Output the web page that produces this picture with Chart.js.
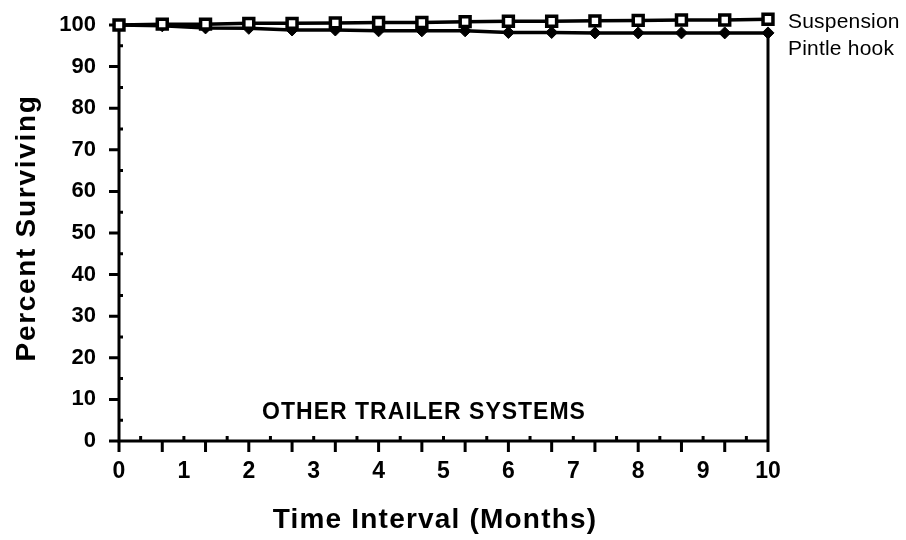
<!DOCTYPE html>
<html>
<head>
<meta charset="utf-8">
<script src="https://cdn.jsdelivr.net/npm/chart.js@4"></script>
<style>
  html, body { margin: 0; padding: 0; background: #fff; }
  canvas { display: block; }
</style>
</head>
<body>
<canvas id="chart" width="906" height="540"></canvas>
<script>
// time points (months), one every 20 days
const months = [0, 2/3, 4/3, 2, 8/3, 10/3, 4, 14/3, 16/3, 6, 20/3, 22/3, 8, 26/3, 28/3, 10];
const suspension = [100, 100.2, 100.2, 100.4, 100.4, 100.5, 100.6, 100.6, 100.8, 100.9, 100.9, 101, 101.1, 101.2, 101.2, 101.4];
const pintleHook = [100, 99.8, 99.3, 99.2, 98.8, 98.8, 98.6, 98.6, 98.6, 98.2, 98.2, 98.1, 98.1, 98.1, 98.1, 98.1];
const seriesNames = ['Suspension', 'Pintle hook'];
const yTicks = [0, 10, 20, 30, 40, 50, 60, 70, 80, 90, 100];
const xTicks = [0, 1, 2, 3, 4, 5, 6, 7, 8, 9, 10];
const panelLabel = 'OTHER TRAILER SYSTEMS';

const FONT = '"Liberation Sans", Arial, Helvetica, sans-serif';

const toPoints = vals => vals.map((v, i) => ({ x: months[i], y: v }));

function text(ctx, str, x, y, font, spacing, align) {
  ctx.save();
  ctx.font = font;
  ctx.letterSpacing = spacing + 'px';
  ctx.fillStyle = '#000';
  ctx.textAlign = align || 'left';
  ctx.textBaseline = 'middle';
  ctx.fillText(str, x, y);
  ctx.restore();
}

const decor = {
  id: 'decor',
  beforeDatasetsDraw(chart) {
    const { ctx, chartArea: a, scales: { x, y } } = chart;
    ctx.save();
    ctx.strokeStyle = '#000';
    ctx.lineCap = 'butt';
    // axes
    ctx.lineWidth = 3;
    ctx.beginPath();
    ctx.moveTo(a.left, a.top - 6);
    ctx.lineTo(a.left, a.bottom);
    ctx.lineTo(a.right, a.bottom);
    ctx.moveTo(a.right, a.bottom);
    ctx.lineTo(a.right, y.getPixelForValue(98));
    ctx.stroke();
    // x ticks every third of a month
    ctx.beginPath();
    for (let k = 0; k <= 30; k++) {
      const px = x.getPixelForValue(k / 3);
      if (k % 2 === 0) {
        ctx.moveTo(px, a.bottom);
        ctx.lineTo(px, a.bottom + 11);
      } else {
        ctx.moveTo(px, a.bottom);
        ctx.lineTo(px, a.bottom - 5);
      }
    }
    // y ticks
    for (let v = 0; v <= 100; v += 5) {
      const py = y.getPixelForValue(v);
      if (v % 10 === 0) {
        ctx.moveTo(a.left, py);
        ctx.lineTo(a.left - 10, py);
      } else {
        ctx.moveTo(a.left, py);
        ctx.lineTo(a.left + 4, py);
      }
    }
    ctx.stroke();
    ctx.restore();
  },
  afterDraw(chart) {
    const { ctx, chartArea: a, scales: { x, y } } = chart;
    // axis titles
    text(ctx, 'Time Interval (Months)', 435, 520, 'bold 28px ' + FONT, 1.2, 'center');
    ctx.save();
    ctx.translate(27, 228);
    ctx.rotate(-Math.PI / 2);
    text(ctx, 'Percent Surviving', 0, 0, 'bold 28px ' + FONT, 1.7, 'center');
    ctx.restore();
    // panel label
    text(ctx, panelLabel, x.getPixelForValue(4.7), 413, 'bold 23px ' + FONT, 1, 'center');
    // series labels at line ends
    const n = months.length - 1;
    text(ctx, seriesNames[0], a.right + 20, y.getPixelForValue(suspension[n]) + 3, '21px ' + FONT, 0.2);
    text(ctx, seriesNames[1], a.right + 20, y.getPixelForValue(pintleHook[n]) + 16, '21px ' + FONT, 0.2);
  }
};

new Chart(document.getElementById('chart'), {
  type: 'line',
  data: {
    datasets: [
      {
        label: seriesNames[0],
        data: toPoints(suspension),
        borderColor: '#000',
        borderWidth: 3.5,
        pointStyle: 'rect',
        pointRadius: 7,
        pointBorderWidth: 3.5,
        pointBackgroundColor: '#fff',
        pointBorderColor: '#000',
        clip: false,
        order: 0
      },
      {
        label: seriesNames[1],
        data: toPoints(pintleHook),
        borderColor: '#000',
        borderWidth: 3.5,
        pointStyle: 'rectRot',
        pointRadius: 6,
        pointBorderWidth: 1,
        pointBackgroundColor: '#000',
        pointBorderColor: '#000',
        clip: false,
        order: 1
      }
    ]
  },
  options: {
    responsive: false,
    animation: false,
    devicePixelRatio: 1,
    layout: { padding: { left: 0, right: 138, top: 25, bottom: 0 } },
    plugins: {
      legend: { display: false },
      tooltip: { enabled: false }
    },
    scales: {
      x: {
        type: 'linear',
        min: 0,
        max: 10,
        afterBuildTicks: s => { s.ticks = xTicks.map(v => ({ value: v })); },
        afterFit: s => { s.height = 99; s.paddingLeft = 0; s.paddingRight = 0; },
        ticks: {
          color: '#000',
          font: { family: FONT, size: 23, weight: 'bold' },
          padding: 17,
          maxRotation: 0
        },
        grid: { display: false, drawTicks: false },
        border: { display: false }
      },
      y: {
        min: 0,
        max: 100,
        afterBuildTicks: s => { s.ticks = yTicks.map(v => ({ value: v })); },
        afterFit: s => { s.width = 119; s.paddingTop = 0; s.paddingBottom = 0; },
        ticks: {
          color: '#000',
          font: { family: FONT, size: 22, weight: 'bold' },
          padding: 23
        },
        grid: { display: false, drawTicks: false },
        border: { display: false }
      }
    }
  },
  plugins: [decor]
});
</script>
</body>
</html>
